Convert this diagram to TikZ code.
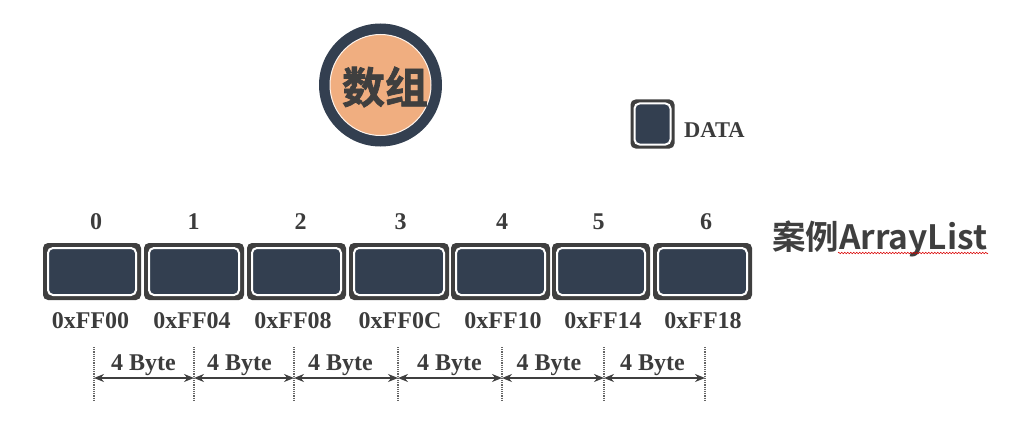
\documentclass[tikz,border=0pt]{standalone}
\usepackage{fontspec}
\usepackage{xcolor}
\usetikzlibrary{positioning}
\usetikzlibrary{arrows.meta}
\usetikzlibrary{decorations.pathmorphing}
\setmainfont{Liberation Serif}
\newfontfamily\cjkbold{Noto Sans CJK SC Bold}
\newfontfamily\cjkheavy[FakeBold=1.6]{Noto Sans CJK SC Bold}
\definecolor{cellblue}{HTML}{333F50}
\definecolor{cellgray}{HTML}{3F3F3F}
\definecolor{disc}{HTML}{F0AE80}
\tikzset{
  label/.style={font=\bfseries\fontsize{24}{24}\selectfont, text=cellgray!95!black, inner sep=0pt},
  cellout/.style={fill=cellgray, rounded corners=5pt, minimum height=57pt, inner sep=0pt},
  cellin/.style={fill=cellblue, draw=white, line width=2pt, rounded corners=5pt, minimum height=47pt, inner sep=0pt},
  tick/.style={densely dotted, line width=1.2pt, color=cellgray!80},
  span/.style={{Stealth[length=10pt,width=8pt]}-{Stealth[length=10pt,width=8pt]}, line width=1.5pt, color=cellgray}
}
\begin{document}
\begin{tikzpicture}[x=1pt,y=-1pt]
  \useasboundingbox (0,0) rectangle (1010,436);
  % title disc
  \node[circle, fill=cellblue, minimum size=123pt, inner sep=0pt] (ring) at (380.5,85) {};
  \node[circle, fill=disc, draw=white!85!disc, line width=1pt, minimum size=101pt, inner sep=0pt] (disc) at (380.5,85) {};
  \node[inner sep=0pt, text=cellgray] (title) at (385,87) {\cjkheavy\fontsize{43}{43}\selectfont 数组};
  % legend
  \node[cellout, minimum width=44pt, minimum height=49pt] (legendout) at (652.5,124) {};
  \node[cellin, minimum width=36pt, minimum height=41pt] (legendin) at (652.5,124) {};
  \node[label, font=\bfseries\fontsize{22.5}{22.5}\selectfont, anchor=west] (data) at (684,130) {DATA};
  % cells
  \foreach \i/\cx/\w/\ix/\ax/\addr in {0/92/98/96/90.5/0xFF00, 1/194/100/193.5/192/0xFF04, 2/296.5/99/300.5/293/0xFF08, 3/399/100/400.5/400/0xFF0C, 4/500.5/99/502/503/0xFF10, 5/601/98/598.5/603/0xFF14, 6/702.5/99/706/703/0xFF18}{
    \node[cellout, minimum width=\w pt] (c\i) at (\cx,271.5) {};
    \node[cellin, minimum width=\w pt-10pt] (ci\i) at (\cx,271.5) {};
    \node[label] (idx\i) at (\ix,222) {\i};
    \node[label] (addr\i) at (\ax,321) {\addr};
  }
  % byte spans
  \foreach \i/\tx in {0/94, 1/194, 2/294, 3/398, 4/502, 5/604, 6/705}{
    \coordinate (t\i) at (\tx,378);
    \coordinate (tu\i) at (\tx,347);
    \coordinate (td\i) at (\tx,402);
    \draw[tick] (tu\i) -- (td\i);
  }
  \foreach \a/\b/\lx in {0/1/143.5, 1/2/239.5, 2/3/340.5, 3/4/449.5, 4/5/549, 5/6/652.5}{
    \draw[span] (t\a) -- (t\b);
    \node[label] (byte\a) at (\lx,365) {4 Byte};
  }
  % case name
  \node[inner sep=0pt, anchor=west, text=cellgray] (name) at (772,238.5) {\cjkbold\fontsize{33.5}{33.5}\selectfont 案例ArrayList};
  \coordinate (wavea) at (838,253);
  \coordinate (waveb) at (988,253);
  \draw[red!85!black, line width=0.6pt, decorate, decoration={zigzag, segment length=3pt, amplitude=0.7pt}] (wavea) -- (waveb);
\end{tikzpicture}
\end{document}
